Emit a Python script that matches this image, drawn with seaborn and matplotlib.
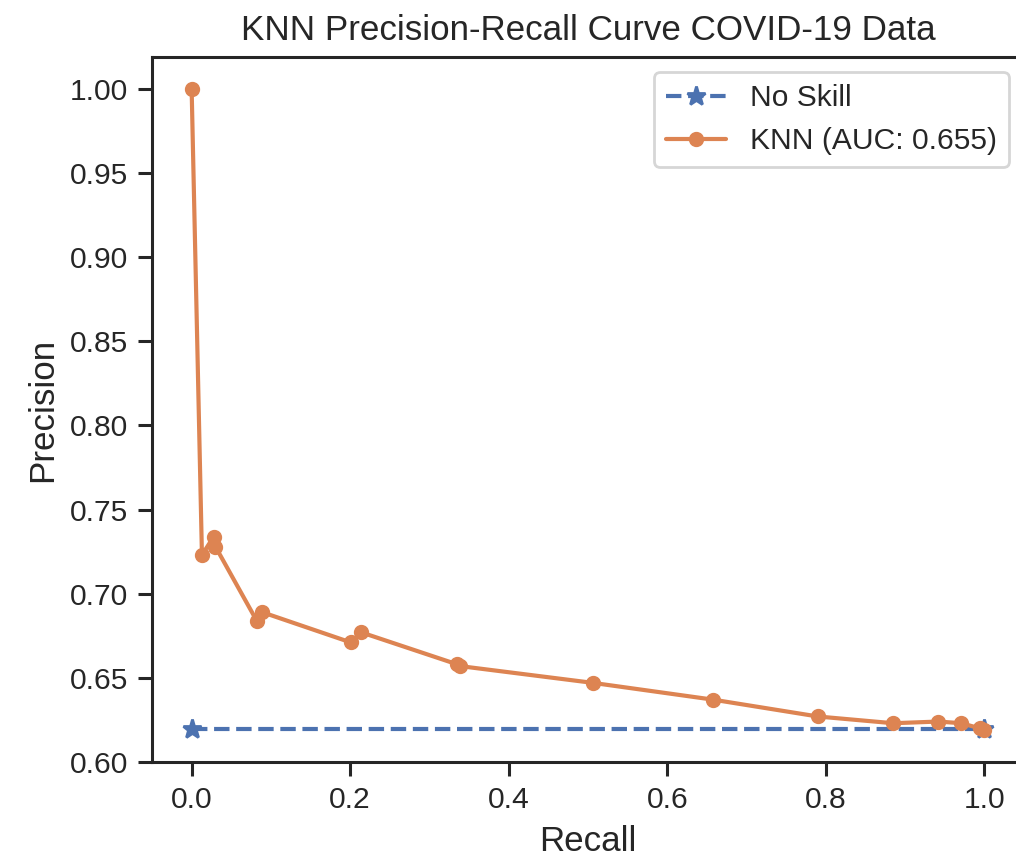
import matplotlib
matplotlib.use("Agg")
import matplotlib.pyplot as plt
import seaborn as sns
import numpy as np

# Data
recall = [1.0, 0.994, 0.971, 0.942, 0.885, 0.790, 0.658, 0.506, 0.338, 0.335,
          0.214, 0.201, 0.089, 0.082, 0.030, 0.028, 0.013, 0.0]
precision = [0.619, 0.620, 0.623, 0.624, 0.623, 0.627, 0.637, 0.647, 0.657, 0.658,
             0.677, 0.671, 0.689, 0.684, 0.728, 0.734, 0.723, 1.0]
no_skill_x = [0.0, 1.0]
no_skill_y = [0.6195, 0.6195]

title = "KNN Precision-Recall Curve COVID-19 Data"
knn_label = "KNN (AUC: 0.655)"

sns.set_theme(style="ticks", context="notebook")
plt.rcParams['font.family'] = ['Liberation Sans', 'DejaVu Sans']

fig = plt.figure(figsize=(5.08, 4.30), dpi=200)
ax = fig.add_axes([152/1016, 1 - 762/860, (1024-152)/1016, (762-57)/860])

pal = sns.color_palette("deep")
sns.lineplot(x=no_skill_x, y=no_skill_y, ax=ax, linestyle='--', marker='*',
             color=pal[0], label='No Skill', estimator=None, sort=False,
             markersize=7, markeredgewidth=1, markeredgecolor=pal[0])
sns.lineplot(x=recall, y=precision, ax=ax, marker='.', color=pal[1],
             label=knn_label, estimator=None, sort=False,
             markersize=9, markeredgewidth=1, markeredgecolor=pal[1])

ax.set_xlabel("Recall", fontsize=12.6)
ax.set_ylabel("Precision", fontsize=12.6)
ax.set_title(title, fontsize=12.6)
ax.tick_params(labelsize=10.8, length=5, width=1.1)
for s in ax.spines.values():
    s.set_linewidth(1.1)
ax.set_yticks([0.60, 0.65, 0.70, 0.75, 0.80, 0.85, 0.90, 0.95, 1.00])
ax.set_xticks([0.0, 0.2, 0.4, 0.6, 0.8, 1.0])
ax.legend(loc='upper right', fontsize=10.8)

fig.savefig("out.png", dpi=200)
